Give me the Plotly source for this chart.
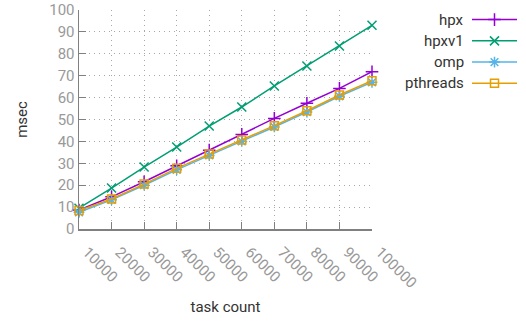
import plotly.graph_objects as go

task_count = [10000, 20000, 30000, 40000, 50000, 60000, 70000, 80000, 90000, 100000]
hpx = [8.7, 14.7, 21.6, 28.9, 36.0, 43.2, 50.5, 57.4, 64.2, 71.8]
hpxv1 = [9.5, 18.7, 28.3, 37.4, 47.0, 55.7, 65.3, 74.4, 83.6, 93.0]
omp = [7.6, 13.3, 20.0, 27.0, 33.6, 40.0, 46.6, 53.4, 60.6, 67.0]
pthreads = [8.4, 13.7, 20.5, 27.7, 34.2, 40.6, 47.2, 54.0, 61.2, 67.7]
x_ticks = [10000, 20000, 30000, 40000, 50000, 60000, 70000, 80000, 90000, 100000]
y_ticks = [0, 10, 20, 30, 40, 50, 60, 70, 80, 90, 100]

series = [
    ("hpx", hpx, "#9400d3", "cross-thin-open", 9),
    ("hpxv1", hpxv1, "#009e73", "x-thin-open", 9),
    ("omp", omp, "#56b4e9", "asterisk-open", 9),
    ("pthreads", pthreads, "#e69f00", "square-open", 8),
]

FONT = "Roboto, Liberation Sans, sans-serif"
fig = go.Figure()
for name, vals, color, sym, sz in series:
    fig.add_trace(go.Scatter(
        x=task_count, y=vals, name=name, mode="lines+markers",
        line=dict(color=color, width=1.5),
        marker=dict(symbol=sym, size=sz, color=color, line=dict(color=color, width=1.5)),
        cliponaxis=False, showlegend=False,
    ))

# gnuplot-style legend: right-aligned text, then sample line with marker
for i, (name, vals, color, sym, sz) in enumerate(series):
    yy = -i
    fig.add_trace(go.Scatter(
        x=[0, 1], y=[yy, yy], mode="lines", line=dict(color=color, width=1.5),
        xaxis="x2", yaxis="y2", showlegend=False, hoverinfo="skip", cliponaxis=False,
    ))
    fig.add_trace(go.Scatter(
        x=[0.5], y=[yy], mode="markers",
        marker=dict(symbol=sym, size=sz, color=color, line=dict(color=color, width=1.5)),
        xaxis="x2", yaxis="y2", showlegend=False, hoverinfo="skip", cliponaxis=False,
    ))
    fig.add_annotation(
        x=0, y=yy, xref="x2", yref="y2", text=name, showarrow=False,
        xanchor="right", xshift=-6, font=dict(family=FONT, size=15, color="#333333"),
    )

W, H = 526, 324
fig.update_layout(
    width=W, height=H,
    margin=dict(l=0, r=0, t=0, b=0, autoexpand=False),
    paper_bgcolor="white", plot_bgcolor="white",
    font=dict(family=FONT, size=15, color="#999999"),
    xaxis=dict(
        domain=[79 / W, 372 / W], anchor="y", automargin=False,
        range=[10000, 100000], tickvals=x_ticks, ticktext=[str(v) for v in x_ticks],
        tickangle=45, showline=True, linecolor="#808080", linewidth=1.5,
        ticks="inside", ticklen=7, tickcolor="#808080",
        ticklabelstandoff=7, ticklabelshift=8,
        showgrid=True, gridcolor="#a8a8a8", griddash="1px,4px", gridwidth=1,
        zeroline=False,
        title=dict(text="task count", font=dict(family=FONT, size=15, color="#333333"), standoff=10),
        tickfont=dict(family=FONT, size=15, color="#999999"),
    ),
    yaxis=dict(
        domain=[1 - 229 / H, 1 - 10 / H], anchor="x", automargin=False,
        range=[0, 100], tickvals=y_ticks,
        showline=True, linecolor="#808080", linewidth=1.5,
        ticks="inside", ticklen=7, tickcolor="#808080",
        showgrid=True, gridcolor="#a8a8a8", griddash="1px,4px", gridwidth=1,
        zeroline=False,
        title=dict(text="msec", font=dict(family=FONT, size=15, color="#333333"), standoff=18),
        tickfont=dict(family=FONT, size=15, color="#999999"),
    ),
    xaxis2=dict(domain=[472 / W, 517 / W], range=[0, 1], anchor="y2", visible=False, fixedrange=True),
    yaxis2=dict(domain=[1 - 94 / H, 1 - 9 / H], range=[-3.5, 0.5], anchor="x2", visible=False, fixedrange=True),
)

fig.write_html("out.html", config={"displayModeBar": False, "staticPlot": True},
               post_script="document.body.style.margin='0';document.body.style.overflow='hidden';")
